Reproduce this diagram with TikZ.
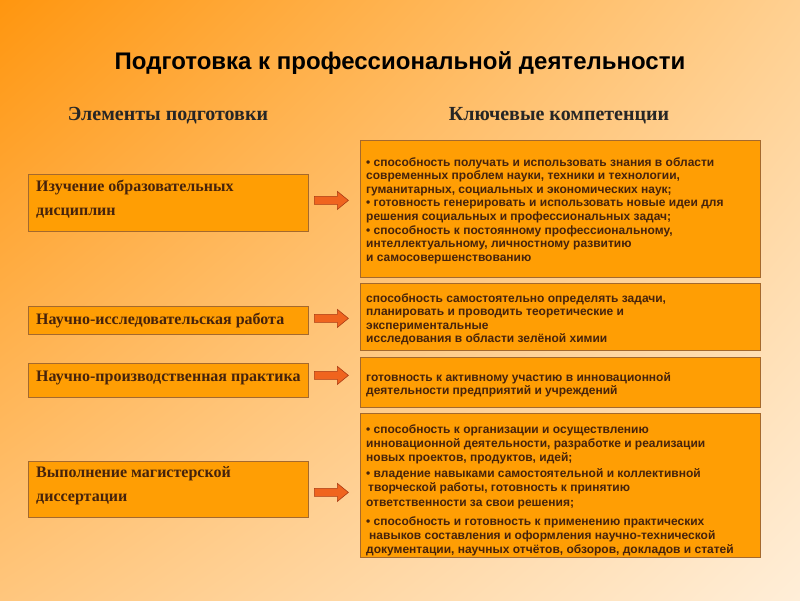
\documentclass[tikz,border=0pt]{standalone}
\usepackage{fontspec}
\setmainfont{Liberation Serif}
\newfontfamily\sansf{Liberation Sans}
\usetikzlibrary{shadings}
\definecolor{bgTL}{RGB}{255,150,15}
\definecolor{bgTR}{RGB}{255,208,145}
\definecolor{bgBL}{RGB}{255,198,125}
\definecolor{bgBR}{RGB}{255,238,216}
\definecolor{boxfill}{RGB}{255,158,4}
\definecolor{boxline}{RGB}{165,105,45}
\definecolor{txtdark}{RGB}{70,35,12}
\definecolor{arrfill}{RGB}{240,100,30}
\definecolor{arrline}{RGB}{170,60,20}
\begin{document}
\begin{tikzpicture}[x=1pt,y=1pt,
  lbox/.style={draw=boxline, fill=boxfill, line width=0.8pt, minimum width=280pt, inner sep=0pt, anchor=north west},
  rbox/.style={draw=boxline, fill=boxfill, line width=0.8pt, minimum width=400pt, inner sep=0pt, anchor=north west},
  ltext/.style={anchor=north west, inner sep=0pt, align=left, text=txtdark, font=\bfseries\fontsize{16}{24}\selectfont},
  rtext/.style={anchor=north west, inner sep=0pt, align=left, text=txtdark, font=\sansf\bfseries\fontsize{12}{13.6}\selectfont},
  hdr/.style={inner sep=0pt, text=black!85, font=\bfseries\fontsize{20}{22}\selectfont},
  blockarrow/.style={draw=arrline, fill=arrfill, line width=0.6pt, line join=miter}
]
\shade[upper left=bgTL, upper right=bgTR, lower left=bgBL, lower right=bgBR] (0,0) rectangle (800,-600);
\useasboundingbox (0,0) rectangle (800,-600);

\node[inner sep=0pt, font=\sansf\bfseries\fontsize{24}{26}\selectfont] (title) at (400,-63) {Подготовка к профессиональной деятельности};
\node[hdr] (h1) at (168,-116) {Элементы подготовки};
\node[hdr] (h2) at (559,-116) {Ключевые компетенции};

% left boxes
\node[lbox, minimum height=57pt] (l1) at (28,-174) {};
\node[ltext] (l1t) at (36,-180) {Изучение образовательных\\дисциплин};
\node[lbox, minimum height=28pt] (l2) at (28,-306) {};
\node[ltext] (l2t) at (36,-313) {Научно-исследовательская работа};
\node[lbox, minimum height=34pt] (l3) at (28,-363) {};
\node[ltext] (l3t) at (36,-371) {Научно-производственная практика};
\node[lbox, minimum height=56pt] (l4) at (28,-461) {};
\node[ltext] (l4t) at (36,-466) {Выполнение магистерской\\диссертации};

% right boxes
\node[rbox, minimum height=137pt] (r1) at (360,-140) {};
\node[rtext] (r1t) at (366,-157) {• способность получать и использовать знания в области\\
современных проблем науки, техники и технологии,\\
гуманитарных, социальных и экономических наук;\\
• готовность генерировать и использовать новые идеи для\\
решения социальных и профессиональных задач;\\
• способность к постоянному профессиональному,\\
интеллектуальному, личностному развитию\\
и самосовершенствованию};
\node[rbox, minimum height=67pt] (r2) at (360,-283) {};
\node[rtext] (r2t) at (366,-293) {способность самостоятельно определять задачи,\\
планировать и проводить теоретические и\\
экспериментальные\\
исследования в области зелёной химии};
\node[rbox, minimum height=50pt] (r3) at (360,-357) {};
\node[rtext] (r3t) at (366,-372) {готовность к активному участию в инновационной\\
деятельности предприятий и учреждений};
\node[rbox, minimum height=144pt] (r4) at (360,-413) {};
\node[rtext, font=\sansf\bfseries\fontsize{12}{14.2}\selectfont] (r4t) at (366,-424) {• способность к организации и осуществлению\\
инновационной деятельности, разработке и реализации\\
новых проектов, продуктов, идей;\\[2pt]
• владение навыками самостоятельной и коллективной\\
\hspace*{2pt}творческой работы, готовность к принятию\\
ответственности за свои решения;\\[5pt]
• способность и готовность к применению практических\\
\hspace*{3pt}навыков составления и оформления научно-технической\\
документации, научных отчётов, обзоров, докладов и статей};

% arrows
\path (l1.east) -- (l1.east -| r1.west) coordinate[midway, xshift=-3pt, yshift=2.5pt] (a1);
\path (l2.east) -- (l2.east -| r2.west) coordinate[midway, xshift=-3pt, yshift=2pt] (a2);
\path (l3.east) -- (l3.east -| r3.west) coordinate[midway, xshift=-3pt, yshift=5pt] (a3);
\path (l4.east) -- (l4.east -| r4.west) coordinate[midway, xshift=-3pt, yshift=-3pt] (a4);
\foreach \a in {a1,a2,a3,a4}{
  \draw[blockarrow, shift={(\a)}] (-17,4) -- (6,4) -- (6,9) -- (17,0) -- (6,-9) -- (6,-4) -- (-17,-4) -- cycle;
}
\end{tikzpicture}
\end{document}
